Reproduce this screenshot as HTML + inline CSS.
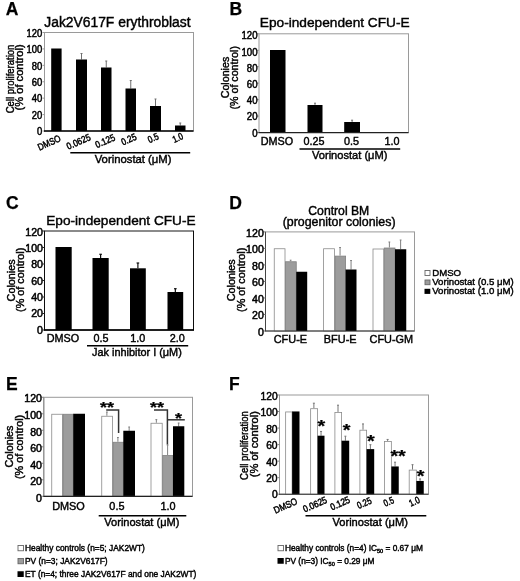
<!DOCTYPE html>
<html lang="en">
<head>
<meta charset="utf-8">
<title>Figure</title>
<style>
html,body{margin:0;padding:0;background:#fff;}
body{width:520px;height:581px;overflow:hidden;}
svg{display:block;font-family:'Liberation Sans', Arial, Helvetica, sans-serif;}
text{fill:#000;stroke:#000;stroke-width:.42px;}
text.st{stroke-width:.25px;}
text.tk{stroke-width:.5px;}
</style>
</head>
<body>
<svg width="520" height="581" viewBox="0 0 520 581">
<defs><filter id="soft" x="0" y="0" width="520" height="581" filterUnits="userSpaceOnUse"><feGaussianBlur stdDeviation="0.42"/></filter></defs>
<rect x="0" y="0" width="520" height="581" fill="#ffffff"/>
<g filter="url(#soft)">
<text transform="translate(5.80 15.30)" font-size="17.5" font-weight="bold" class="st">A</text>
<text transform="translate(44.30 27.00)" font-size="13.85">Jak2V617F erythroblast</text>
<rect x="44.5" y="32.5" width="149.0" height="98.5" fill="none" stroke="#9a9a9a" stroke-width="1"/>
<line x1="42.50" y1="131.00" x2="44.50" y2="131.00" stroke="#999" stroke-width="1"/>
<line x1="42.50" y1="114.58" x2="44.50" y2="114.58" stroke="#999" stroke-width="1"/>
<line x1="42.50" y1="98.17" x2="44.50" y2="98.17" stroke="#999" stroke-width="1"/>
<line x1="42.50" y1="81.75" x2="44.50" y2="81.75" stroke="#999" stroke-width="1"/>
<line x1="42.50" y1="65.33" x2="44.50" y2="65.33" stroke="#999" stroke-width="1"/>
<line x1="42.50" y1="48.92" x2="44.50" y2="48.92" stroke="#999" stroke-width="1"/>
<line x1="42.50" y1="32.50" x2="44.50" y2="32.50" stroke="#999" stroke-width="1"/>
<text transform="translate(42.20 135.29) scale(0.89 1)" font-size="10.6" text-anchor="end" class="tk">0</text>
<text transform="translate(42.20 118.89) scale(0.89 1)" font-size="10.6" text-anchor="end" class="tk">20</text>
<text transform="translate(42.20 102.49) scale(0.89 1)" font-size="10.6" text-anchor="end" class="tk">40</text>
<text transform="translate(42.20 86.09) scale(0.89 1)" font-size="10.6" text-anchor="end" class="tk">60</text>
<text transform="translate(42.20 69.69) scale(0.89 1)" font-size="10.6" text-anchor="end" class="tk">80</text>
<text transform="translate(42.20 53.29) scale(0.89 1)" font-size="10.6" text-anchor="end" class="tk">100</text>
<text transform="translate(42.20 36.89) scale(0.89 1)" font-size="10.6" text-anchor="end" class="tk">120</text>
<rect x="51.20" y="48.50" width="10.40" height="82.50" fill="#000"/>
<line x1="81.50" y1="53.50" x2="81.50" y2="59.50" stroke="#707070" stroke-width="1"/>
<line x1="80.50" y1="53.50" x2="82.50" y2="53.50" stroke="#707070" stroke-width="1"/>
<rect x="76.00" y="59.50" width="11.00" height="71.50" fill="#000"/>
<line x1="106.25" y1="61.00" x2="106.25" y2="67.50" stroke="#707070" stroke-width="1"/>
<line x1="105.25" y1="61.00" x2="107.25" y2="61.00" stroke="#707070" stroke-width="1"/>
<rect x="101.00" y="67.50" width="10.50" height="63.50" fill="#000"/>
<line x1="130.75" y1="80.50" x2="130.75" y2="88.50" stroke="#707070" stroke-width="1"/>
<line x1="129.75" y1="80.50" x2="131.75" y2="80.50" stroke="#707070" stroke-width="1"/>
<rect x="125.50" y="88.50" width="10.50" height="42.50" fill="#000"/>
<line x1="155.50" y1="99.00" x2="155.50" y2="106.00" stroke="#707070" stroke-width="1"/>
<line x1="154.50" y1="99.00" x2="156.50" y2="99.00" stroke="#707070" stroke-width="1"/>
<rect x="150.00" y="106.00" width="11.00" height="25.00" fill="#000"/>
<line x1="180.25" y1="123.00" x2="180.25" y2="125.50" stroke="#707070" stroke-width="1"/>
<line x1="179.25" y1="123.00" x2="181.25" y2="123.00" stroke="#707070" stroke-width="1"/>
<rect x="175.00" y="125.50" width="10.50" height="5.50" fill="#000"/>
<line x1="44.00" y1="131.00" x2="193.50" y2="131.00" stroke="#000" stroke-width="1.5"/>
<text transform="translate(61.60 140.80) rotate(-24) scale(0.84 1)" font-size="9.6" text-anchor="end" class="tk">DMSO</text>
<text transform="translate(91.40 139.60) rotate(-24) scale(0.86 1)" font-size="9.6" text-anchor="end" class="tk">0.0625</text>
<text transform="translate(115.90 139.80) rotate(-24) scale(0.86 1)" font-size="9.6" text-anchor="end" class="tk">0.125</text>
<text transform="translate(137.30 139.20) rotate(-24) scale(0.84 1)" font-size="9.6" text-anchor="end" class="tk">0.25</text>
<text transform="translate(159.50 138.70) rotate(-24) scale(0.82 1)" font-size="9.6" text-anchor="end" class="tk">0.5</text>
<text transform="translate(184.00 138.60) rotate(-24) scale(0.8 1)" font-size="9.6" text-anchor="end" class="tk">1.0</text>
<line x1="70.30" y1="152.80" x2="190.20" y2="152.80" stroke="#000" stroke-width="1.5"/>
<text transform="translate(94.70 163.30)" font-size="11.3">Vorinostat (μM)</text>
<text transform="translate(14.20 79.00) rotate(-90) scale(0.89 1)" font-size="10.7" text-anchor="middle">Cell proliferation</text>
<text transform="translate(23.40 77.40) rotate(-90) scale(1.02 1)" font-size="10.9" text-anchor="middle">(% of control)</text>
<text transform="translate(229.50 15.30)" font-size="17.5" font-weight="bold" class="st">B</text>
<text transform="translate(259.80 27.00)" font-size="13.7">Epo-independent CFU-E</text>
<rect x="259.0" y="33.8" width="149.5" height="98.7" fill="none" stroke="#9a9a9a" stroke-width="1"/>
<line x1="257.00" y1="132.50" x2="259.00" y2="132.50" stroke="#999" stroke-width="1"/>
<line x1="257.00" y1="116.05" x2="259.00" y2="116.05" stroke="#999" stroke-width="1"/>
<line x1="257.00" y1="99.60" x2="259.00" y2="99.60" stroke="#999" stroke-width="1"/>
<line x1="257.00" y1="83.15" x2="259.00" y2="83.15" stroke="#999" stroke-width="1"/>
<line x1="257.00" y1="66.70" x2="259.00" y2="66.70" stroke="#999" stroke-width="1"/>
<line x1="257.00" y1="50.25" x2="259.00" y2="50.25" stroke="#999" stroke-width="1"/>
<line x1="257.00" y1="33.80" x2="259.00" y2="33.80" stroke="#999" stroke-width="1"/>
<text transform="translate(257.50 136.69) scale(0.91 1)" font-size="10.6" text-anchor="end" class="tk">0</text>
<text transform="translate(257.50 120.48) scale(0.91 1)" font-size="10.6" text-anchor="end" class="tk">20</text>
<text transform="translate(257.50 104.26) scale(0.91 1)" font-size="10.6" text-anchor="end" class="tk">40</text>
<text transform="translate(257.50 88.04) scale(0.91 1)" font-size="10.6" text-anchor="end" class="tk">60</text>
<text transform="translate(257.50 71.83) scale(0.91 1)" font-size="10.6" text-anchor="end" class="tk">80</text>
<text transform="translate(257.50 55.61) scale(0.91 1)" font-size="10.6" text-anchor="end" class="tk">100</text>
<text transform="translate(257.50 39.39) scale(0.91 1)" font-size="10.6" text-anchor="end" class="tk">120</text>
<rect x="270.00" y="50.00" width="15.50" height="82.50" fill="#000"/>
<line x1="315.00" y1="103.20" x2="315.00" y2="105.00" stroke="#707070" stroke-width="1"/>
<line x1="314.00" y1="103.20" x2="316.00" y2="103.20" stroke="#707070" stroke-width="1"/>
<rect x="307.50" y="105.00" width="15.00" height="27.50" fill="#000"/>
<line x1="352.10" y1="120.20" x2="352.10" y2="122.00" stroke="#707070" stroke-width="1"/>
<line x1="351.10" y1="120.20" x2="353.10" y2="120.20" stroke="#707070" stroke-width="1"/>
<rect x="344.20" y="122.00" width="15.80" height="10.50" fill="#000"/>
<line x1="258.50" y1="132.50" x2="408.50" y2="132.50" stroke="#222" stroke-width="1.25"/>
<text transform="translate(277.00 144.50)" font-size="10.8" text-anchor="middle">DMSO</text>
<text transform="translate(314.10 144.50)" font-size="10.8" text-anchor="middle">0.25</text>
<text transform="translate(351.50 144.50)" font-size="10.8" text-anchor="middle">0.5</text>
<text transform="translate(392.00 144.50)" font-size="10.8" text-anchor="middle">1.0</text>
<line x1="299.50" y1="149.10" x2="400.20" y2="149.10" stroke="#000" stroke-width="1.5"/>
<text transform="translate(312.00 159.40)" font-size="11.1">Vorinostat (μM)</text>
<text transform="translate(229.00 77.50) rotate(-90) scale(0.99 1)" font-size="10.8" text-anchor="middle">Colonies</text>
<text transform="translate(238.20 77.80) rotate(-90) scale(0.99 1)" font-size="10.8" text-anchor="middle">(% of control)</text>
<text transform="translate(6.00 208.80)" font-size="17.5" font-weight="bold" class="st">C</text>
<text transform="translate(46.20 224.80)" font-size="13.65">Epo-independent CFU-E</text>
<rect x="44.5" y="231.0" width="149.0" height="99.0" fill="none" stroke="#111" stroke-width="1"/>
<line x1="42.50" y1="330.00" x2="44.50" y2="330.00" stroke="#222" stroke-width="1"/>
<line x1="42.50" y1="313.50" x2="44.50" y2="313.50" stroke="#222" stroke-width="1"/>
<line x1="42.50" y1="297.00" x2="44.50" y2="297.00" stroke="#222" stroke-width="1"/>
<line x1="42.50" y1="280.50" x2="44.50" y2="280.50" stroke="#222" stroke-width="1"/>
<line x1="42.50" y1="264.00" x2="44.50" y2="264.00" stroke="#222" stroke-width="1"/>
<line x1="42.50" y1="247.50" x2="44.50" y2="247.50" stroke="#222" stroke-width="1"/>
<line x1="42.50" y1="231.00" x2="44.50" y2="231.00" stroke="#222" stroke-width="1"/>
<text transform="translate(43.00 333.69) scale(1.0 1)" font-size="10.6" text-anchor="end" class="tk">0</text>
<text transform="translate(43.00 317.36) scale(1.0 1)" font-size="10.6" text-anchor="end" class="tk">20</text>
<text transform="translate(43.00 301.03) scale(1.0 1)" font-size="10.6" text-anchor="end" class="tk">40</text>
<text transform="translate(43.00 284.69) scale(1.0 1)" font-size="10.6" text-anchor="end" class="tk">60</text>
<text transform="translate(43.00 268.36) scale(1.0 1)" font-size="10.6" text-anchor="end" class="tk">80</text>
<text transform="translate(43.00 252.03) scale(1.0 1)" font-size="10.6" text-anchor="end" class="tk">100</text>
<text transform="translate(43.00 235.69) scale(1.0 1)" font-size="10.6" text-anchor="end" class="tk">120</text>
<rect x="55.50" y="247.00" width="16.20" height="83.00" fill="#000"/>
<line x1="100.60" y1="254.30" x2="100.60" y2="258.00" stroke="#111" stroke-width="1.2"/>
<line x1="99.30" y1="254.30" x2="101.90" y2="254.30" stroke="#111" stroke-width="1.2"/>
<rect x="92.50" y="258.00" width="16.20" height="72.00" fill="#000"/>
<line x1="137.90" y1="263.00" x2="137.90" y2="268.30" stroke="#111" stroke-width="1.2"/>
<line x1="136.60" y1="263.00" x2="139.20" y2="263.00" stroke="#111" stroke-width="1.2"/>
<rect x="130.00" y="268.30" width="15.80" height="61.70" fill="#000"/>
<line x1="175.35" y1="288.70" x2="175.35" y2="292.00" stroke="#111" stroke-width="1.2"/>
<line x1="174.05" y1="288.70" x2="176.65" y2="288.70" stroke="#111" stroke-width="1.2"/>
<rect x="167.50" y="292.00" width="15.70" height="38.00" fill="#000"/>
<line x1="44.00" y1="330.00" x2="194.00" y2="330.00" stroke="#000" stroke-width="1.4"/>
<text transform="translate(62.90 342.00)" font-size="10.8" text-anchor="middle">DMSO</text>
<text transform="translate(100.90 342.00)" font-size="10.8" text-anchor="middle">0.5</text>
<text transform="translate(137.75 342.00)" font-size="10.8" text-anchor="middle">1.0</text>
<text transform="translate(177.20 342.00)" font-size="10.8" text-anchor="middle">2.0</text>
<line x1="87.00" y1="345.80" x2="188.20" y2="345.80" stroke="#000" stroke-width="1.5"/>
<text transform="translate(92.00 355.60)" font-size="10.9">Jak inhibitor I (μM)</text>
<text transform="translate(14.80 280.40) rotate(-90) scale(1.0 1)" font-size="10.8" text-anchor="middle">Colonies</text>
<text transform="translate(24.20 279.80) rotate(-90) scale(1.0 1)" font-size="10.8" text-anchor="middle">(% of control)</text>
<text transform="translate(229.20 208.80)" font-size="17.5" font-weight="bold" class="st">D</text>
<text transform="translate(338.80 215.00)" font-size="12.2" text-anchor="middle">Control BM</text>
<text transform="translate(339.10 226.30)" font-size="12.4" text-anchor="middle">(progenitor colonies)</text>
<rect x="265.5" y="231.9" width="149.0" height="99.1" fill="none" stroke="#9a9a9a" stroke-width="1"/>
<line x1="265.50" y1="231.90" x2="265.50" y2="331.00" stroke="#444" stroke-width="1"/>
<line x1="263.50" y1="331.00" x2="265.50" y2="331.00" stroke="#777" stroke-width="1"/>
<line x1="263.50" y1="314.48" x2="265.50" y2="314.48" stroke="#777" stroke-width="1"/>
<line x1="263.50" y1="297.97" x2="265.50" y2="297.97" stroke="#777" stroke-width="1"/>
<line x1="263.50" y1="281.45" x2="265.50" y2="281.45" stroke="#777" stroke-width="1"/>
<line x1="263.50" y1="264.93" x2="265.50" y2="264.93" stroke="#777" stroke-width="1"/>
<line x1="263.50" y1="248.42" x2="265.50" y2="248.42" stroke="#777" stroke-width="1"/>
<line x1="263.50" y1="231.90" x2="265.50" y2="231.90" stroke="#777" stroke-width="1"/>
<text transform="translate(263.80 335.99) scale(1.0 1)" font-size="10.6" text-anchor="end" class="tk">0</text>
<text transform="translate(263.80 319.48) scale(1.0 1)" font-size="10.6" text-anchor="end" class="tk">20</text>
<text transform="translate(263.80 302.96) scale(1.0 1)" font-size="10.6" text-anchor="end" class="tk">40</text>
<text transform="translate(263.80 286.44) scale(1.0 1)" font-size="10.6" text-anchor="end" class="tk">60</text>
<text transform="translate(263.80 269.93) scale(1.0 1)" font-size="10.6" text-anchor="end" class="tk">80</text>
<text transform="translate(263.80 253.41) scale(1.0 1)" font-size="10.6" text-anchor="end" class="tk">100</text>
<text transform="translate(263.80 236.89) scale(1.0 1)" font-size="10.6" text-anchor="end" class="tk">120</text>
<rect x="274.25" y="248.75" width="10.75" height="82.25" fill="#fff" stroke="#8a8a8a" stroke-width="0.8"/>
<line x1="290.62" y1="260.20" x2="290.62" y2="261.25" stroke="#808080" stroke-width="1"/>
<line x1="289.73" y1="260.20" x2="291.52" y2="260.20" stroke="#808080" stroke-width="1"/>
<rect x="285.50" y="261.75" width="10.75" height="69.25" fill="#9c9c9c" stroke="#808080" stroke-width="0.8"/>
<rect x="296.25" y="271.75" width="10.95" height="59.25" fill="#000"/>
<rect x="323.60" y="248.75" width="10.90" height="82.25" fill="#fff" stroke="#8a8a8a" stroke-width="0.8"/>
<line x1="340.05" y1="247.50" x2="340.05" y2="255.60" stroke="#808080" stroke-width="1"/>
<line x1="339.15" y1="247.50" x2="340.95" y2="247.50" stroke="#808080" stroke-width="1"/>
<rect x="335.00" y="256.10" width="10.60" height="74.90" fill="#9c9c9c" stroke="#808080" stroke-width="0.8"/>
<line x1="351.05" y1="260.50" x2="351.05" y2="269.50" stroke="#808080" stroke-width="1"/>
<line x1="350.15" y1="260.50" x2="351.95" y2="260.50" stroke="#808080" stroke-width="1"/>
<rect x="345.60" y="269.50" width="10.90" height="61.50" fill="#000"/>
<rect x="373.00" y="249.00" width="10.75" height="82.00" fill="#fff" stroke="#8a8a8a" stroke-width="0.8"/>
<line x1="389.38" y1="242.00" x2="389.38" y2="247.50" stroke="#808080" stroke-width="1"/>
<line x1="388.48" y1="242.00" x2="390.27" y2="242.00" stroke="#808080" stroke-width="1"/>
<rect x="384.25" y="248.00" width="10.75" height="83.00" fill="#9c9c9c" stroke="#808080" stroke-width="0.8"/>
<line x1="400.62" y1="240.00" x2="400.62" y2="249.25" stroke="#808080" stroke-width="1"/>
<line x1="399.73" y1="240.00" x2="401.52" y2="240.00" stroke="#808080" stroke-width="1"/>
<rect x="395.00" y="249.25" width="11.25" height="81.75" fill="#000"/>
<line x1="265.00" y1="331.00" x2="414.50" y2="331.00" stroke="#333" stroke-width="1.15"/>
<text transform="translate(290.40 343.20)" font-size="10.9" text-anchor="middle">CFU-E</text>
<text transform="translate(340.20 343.20)" font-size="10.9" text-anchor="middle">BFU-E</text>
<text transform="translate(391.30 343.20)" font-size="10.9" text-anchor="middle">CFU-GM</text>
<text transform="translate(235.40 280.30) rotate(-90) scale(1.0 1)" font-size="10.8" text-anchor="middle">Colonies</text>
<text transform="translate(245.00 279.80) rotate(-90) scale(1.0 1)" font-size="10.8" text-anchor="middle">(% of control)</text>
<rect x="425.00" y="270.50" width="5.00" height="5.00" fill="#fff" stroke="#666" stroke-width="0.9"/>
<text transform="translate(432.20 275.80)" font-size="9.65">DMSO</text>
<rect x="425.00" y="280.00" width="5.00" height="4.70" fill="#9c9c9c" stroke="#666" stroke-width="0.9"/>
<text transform="translate(432.20 284.60)" font-size="9.65">Vorinostat (0.5 μM)</text>
<rect x="424.50" y="288.80" width="5.80" height="5.10" fill="#000"/>
<text transform="translate(432.20 293.80)" font-size="9.65">Vorinostat (1.0 μM)</text>
<text transform="translate(5.90 390.00)" font-size="17.5" font-weight="bold" class="st">E</text>
<rect x="43.8" y="397.3" width="148.7" height="99.0" fill="none" stroke="#9a9a9a" stroke-width="1"/>
<line x1="43.80" y1="397.30" x2="43.80" y2="496.30" stroke="#8a8a8a" stroke-width="1"/>
<line x1="41.80" y1="496.30" x2="43.80" y2="496.30" stroke="#888" stroke-width="1"/>
<line x1="41.80" y1="479.80" x2="43.80" y2="479.80" stroke="#888" stroke-width="1"/>
<line x1="41.80" y1="463.30" x2="43.80" y2="463.30" stroke="#888" stroke-width="1"/>
<line x1="41.80" y1="446.80" x2="43.80" y2="446.80" stroke="#888" stroke-width="1"/>
<line x1="41.80" y1="430.30" x2="43.80" y2="430.30" stroke="#888" stroke-width="1"/>
<line x1="41.80" y1="413.80" x2="43.80" y2="413.80" stroke="#888" stroke-width="1"/>
<line x1="41.80" y1="397.30" x2="43.80" y2="397.30" stroke="#888" stroke-width="1"/>
<text transform="translate(42.00 501.79) scale(1.0 1)" font-size="10.6" text-anchor="end" class="tk">0</text>
<text transform="translate(42.00 485.24) scale(1.0 1)" font-size="10.6" text-anchor="end" class="tk">20</text>
<text transform="translate(42.00 468.69) scale(1.0 1)" font-size="10.6" text-anchor="end" class="tk">40</text>
<text transform="translate(42.00 452.14) scale(1.0 1)" font-size="10.6" text-anchor="end" class="tk">60</text>
<text transform="translate(42.00 435.59) scale(1.0 1)" font-size="10.6" text-anchor="end" class="tk">80</text>
<text transform="translate(42.00 419.04) scale(1.0 1)" font-size="10.6" text-anchor="end" class="tk">100</text>
<text transform="translate(42.00 402.49) scale(1.0 1)" font-size="10.6" text-anchor="end" class="tk">120</text>
<rect x="51.75" y="414.25" width="10.75" height="82.05" fill="#fff" stroke="#8a8a8a" stroke-width="0.8"/>
<rect x="63.00" y="414.25" width="10.25" height="82.05" fill="#9c9c9c" stroke="#808080" stroke-width="0.8"/>
<rect x="73.25" y="413.75" width="11.75" height="82.55" fill="#000"/>
<line x1="106.88" y1="412.00" x2="106.88" y2="415.75" stroke="#808080" stroke-width="1"/>
<line x1="105.97" y1="412.00" x2="107.78" y2="412.00" stroke="#808080" stroke-width="1"/>
<rect x="101.75" y="416.25" width="10.75" height="80.05" fill="#fff" stroke="#8a8a8a" stroke-width="0.8"/>
<line x1="117.90" y1="437.50" x2="117.90" y2="441.75" stroke="#808080" stroke-width="1"/>
<line x1="117.00" y1="437.50" x2="118.80" y2="437.50" stroke="#808080" stroke-width="1"/>
<rect x="113.00" y="442.25" width="10.30" height="54.05" fill="#9c9c9c" stroke="#808080" stroke-width="0.8"/>
<line x1="129.15" y1="427.00" x2="129.15" y2="430.75" stroke="#808080" stroke-width="1"/>
<line x1="128.25" y1="427.00" x2="130.05" y2="427.00" stroke="#808080" stroke-width="1"/>
<rect x="123.30" y="430.75" width="11.70" height="65.55" fill="#000"/>
<line x1="156.35" y1="419.60" x2="156.35" y2="422.75" stroke="#808080" stroke-width="1"/>
<line x1="155.45" y1="419.60" x2="157.25" y2="419.60" stroke="#808080" stroke-width="1"/>
<rect x="151.00" y="423.25" width="11.20" height="73.05" fill="#fff" stroke="#8a8a8a" stroke-width="0.8"/>
<line x1="167.60" y1="445.00" x2="167.60" y2="455.00" stroke="#808080" stroke-width="1"/>
<line x1="166.70" y1="445.00" x2="168.50" y2="445.00" stroke="#808080" stroke-width="1"/>
<rect x="162.70" y="455.50" width="10.30" height="40.80" fill="#9c9c9c" stroke="#808080" stroke-width="0.8"/>
<line x1="178.65" y1="423.00" x2="178.65" y2="426.25" stroke="#808080" stroke-width="1"/>
<line x1="177.75" y1="423.00" x2="179.55" y2="423.00" stroke="#808080" stroke-width="1"/>
<rect x="173.00" y="426.25" width="11.30" height="70.05" fill="#000"/>
<line x1="43.30" y1="496.30" x2="192.50" y2="496.30" stroke="#222" stroke-width="1.2"/>
<text transform="translate(68.50 510.00)" font-size="10.9" text-anchor="middle">DMSO</text>
<text transform="translate(116.90 510.00)" font-size="10.9" text-anchor="middle">0.5</text>
<text transform="translate(168.00 510.00)" font-size="10.9" text-anchor="middle">1.0</text>
<line x1="98.70" y1="515.70" x2="186.30" y2="515.70" stroke="#000" stroke-width="1.5"/>
<text transform="translate(104.30 525.60)" font-size="11.05">Vorinostat (μM)</text>
<text transform="translate(13.00 446.50) rotate(-90) scale(1.0 1)" font-size="10.8" text-anchor="middle">Colonies</text>
<text transform="translate(23.00 446.90) rotate(-90) scale(1.0 1)" font-size="10.8" text-anchor="middle">(% of control)</text>
<text transform="translate(106.90 412.30) scale(1.2 1)" font-size="15" text-anchor="middle" font-weight="bold" class="st">**</text>
<polyline points="106.2,410 118.6,410 118.6,433" fill="none" stroke="#333" stroke-width="1.5"/>
<text transform="translate(156.90 412.30) scale(1.2 1)" font-size="15" text-anchor="middle" font-weight="bold" class="st">**</text>
<polyline points="154,410 167.4,410 167.4,444.5" fill="none" stroke="#333" stroke-width="1.5"/>
<text transform="translate(178.40 422.80) scale(1.2 1)" font-size="15" text-anchor="middle" font-weight="bold" class="st">*</text>
<line x1="167.40" y1="419.80" x2="184.80" y2="419.80" stroke="#333" stroke-width="1.5"/>
<rect x="18.00" y="545.50" width="5.50" height="5.25" fill="#fff" stroke="#666" stroke-width="0.9"/>
<text transform="translate(25.00 550.60)" font-size="8.38">Healthy controls (n=5; JAK2WT)</text>
<rect x="18.00" y="558.50" width="5.50" height="5.25" fill="#9c9c9c" stroke="#666" stroke-width="0.9"/>
<text transform="translate(25.00 563.80)" font-size="8.38">PV (n=3; JAK2V617F)</text>
<rect x="17.50" y="571.25" width="6.25" height="5.75" fill="#000"/>
<text transform="translate(25.00 577.00)" font-size="8.38">ET (n=4; three JAK2V617F and one JAK2WT)</text>
<text transform="translate(229.10 390.00)" font-size="17.5" font-weight="bold" class="st">F</text>
<rect x="279.5" y="395.0" width="149.0" height="99.19999999999999" fill="none" stroke="#9a9a9a" stroke-width="1"/>
<line x1="277.50" y1="494.20" x2="279.50" y2="494.20" stroke="#888" stroke-width="1"/>
<line x1="277.50" y1="477.67" x2="279.50" y2="477.67" stroke="#888" stroke-width="1"/>
<line x1="277.50" y1="461.13" x2="279.50" y2="461.13" stroke="#888" stroke-width="1"/>
<line x1="277.50" y1="444.60" x2="279.50" y2="444.60" stroke="#888" stroke-width="1"/>
<line x1="277.50" y1="428.07" x2="279.50" y2="428.07" stroke="#888" stroke-width="1"/>
<line x1="277.50" y1="411.53" x2="279.50" y2="411.53" stroke="#888" stroke-width="1"/>
<line x1="277.50" y1="395.00" x2="279.50" y2="395.00" stroke="#888" stroke-width="1"/>
<text transform="translate(277.60 498.39) scale(0.97 1)" font-size="10.6" text-anchor="end" class="tk">0</text>
<text transform="translate(277.60 482.01) scale(0.97 1)" font-size="10.6" text-anchor="end" class="tk">20</text>
<text transform="translate(277.60 465.63) scale(0.97 1)" font-size="10.6" text-anchor="end" class="tk">40</text>
<text transform="translate(277.60 449.24) scale(0.97 1)" font-size="10.6" text-anchor="end" class="tk">60</text>
<text transform="translate(277.60 432.86) scale(0.97 1)" font-size="10.6" text-anchor="end" class="tk">80</text>
<text transform="translate(277.60 416.48) scale(0.97 1)" font-size="10.6" text-anchor="end" class="tk">100</text>
<text transform="translate(277.60 400.09) scale(0.97 1)" font-size="10.6" text-anchor="end" class="tk">120</text>
<rect x="285.65" y="411.95" width="6.45" height="82.25" fill="#fff" stroke="#8a8a8a" stroke-width="0.8"/>
<rect x="292.10" y="411.45" width="7.40" height="82.75" fill="#000"/>
<line x1="313.88" y1="403.20" x2="313.88" y2="408.20" stroke="#777" stroke-width="1"/>
<line x1="312.88" y1="403.20" x2="314.88" y2="403.20" stroke="#777" stroke-width="1"/>
<rect x="310.65" y="408.70" width="6.95" height="85.50" fill="#fff" stroke="#8a8a8a" stroke-width="0.8"/>
<line x1="321.05" y1="431.45" x2="321.05" y2="435.70" stroke="#777" stroke-width="1"/>
<line x1="320.05" y1="431.45" x2="322.05" y2="431.45" stroke="#777" stroke-width="1"/>
<rect x="317.60" y="435.70" width="6.90" height="58.50" fill="#000"/>
<line x1="338.00" y1="405.20" x2="338.00" y2="411.95" stroke="#777" stroke-width="1"/>
<line x1="337.00" y1="405.20" x2="339.00" y2="405.20" stroke="#777" stroke-width="1"/>
<rect x="334.90" y="412.45" width="6.70" height="81.75" fill="#fff" stroke="#8a8a8a" stroke-width="0.8"/>
<line x1="345.40" y1="436.20" x2="345.40" y2="440.70" stroke="#777" stroke-width="1"/>
<line x1="344.40" y1="436.20" x2="346.40" y2="436.20" stroke="#777" stroke-width="1"/>
<rect x="341.60" y="440.70" width="7.60" height="53.50" fill="#000"/>
<line x1="363.00" y1="423.95" x2="363.00" y2="429.70" stroke="#777" stroke-width="1"/>
<line x1="362.00" y1="423.95" x2="364.00" y2="423.95" stroke="#777" stroke-width="1"/>
<rect x="359.90" y="430.20" width="6.70" height="64.00" fill="#fff" stroke="#8a8a8a" stroke-width="0.8"/>
<line x1="370.40" y1="444.70" x2="370.40" y2="449.10" stroke="#777" stroke-width="1"/>
<line x1="369.40" y1="444.70" x2="371.40" y2="444.70" stroke="#777" stroke-width="1"/>
<rect x="366.60" y="449.10" width="7.60" height="45.10" fill="#000"/>
<line x1="387.62" y1="439.45" x2="387.62" y2="440.95" stroke="#777" stroke-width="1"/>
<line x1="386.62" y1="439.45" x2="388.62" y2="439.45" stroke="#777" stroke-width="1"/>
<rect x="384.40" y="441.45" width="6.95" height="52.75" fill="#fff" stroke="#8a8a8a" stroke-width="0.8"/>
<line x1="395.05" y1="462.20" x2="395.05" y2="466.45" stroke="#777" stroke-width="1"/>
<line x1="394.05" y1="462.20" x2="396.05" y2="462.20" stroke="#777" stroke-width="1"/>
<rect x="391.35" y="466.45" width="7.40" height="27.75" fill="#000"/>
<line x1="412.52" y1="464.70" x2="412.52" y2="469.60" stroke="#777" stroke-width="1"/>
<line x1="411.52" y1="464.70" x2="413.52" y2="464.70" stroke="#777" stroke-width="1"/>
<rect x="409.20" y="470.10" width="7.15" height="24.10" fill="#fff" stroke="#8a8a8a" stroke-width="0.8"/>
<line x1="420.05" y1="478.95" x2="420.05" y2="480.95" stroke="#777" stroke-width="1"/>
<line x1="419.05" y1="478.95" x2="421.05" y2="478.95" stroke="#777" stroke-width="1"/>
<rect x="416.35" y="480.95" width="7.40" height="13.25" fill="#000"/>
<line x1="279.00" y1="494.20" x2="428.50" y2="494.20" stroke="#333" stroke-width="1.15"/>
<text transform="translate(298.20 503.60) rotate(-24) scale(0.86 1)" font-size="9.6" text-anchor="end" class="tk">DMSO</text>
<text transform="translate(327.80 502.30) rotate(-24) scale(0.86 1)" font-size="9.6" text-anchor="end" class="tk">0.0625</text>
<text transform="translate(350.80 502.10) rotate(-24) scale(0.86 1)" font-size="9.6" text-anchor="end" class="tk">0.125</text>
<text transform="translate(372.30 502.90) rotate(-24) scale(0.8 1)" font-size="9.6" text-anchor="end" class="tk">0.25</text>
<text transform="translate(394.80 502.60) rotate(-24) scale(0.78 1)" font-size="9.6" text-anchor="end" class="tk">0.5</text>
<text transform="translate(420.60 502.30) rotate(-24) scale(0.8 1)" font-size="9.6" text-anchor="end" class="tk">1.0</text>
<line x1="305.50" y1="515.80" x2="426.30" y2="515.80" stroke="#000" stroke-width="1.5"/>
<text transform="translate(332.50 525.60)" font-size="11.1">Vorinostat (μM)</text>
<text transform="translate(248.30 445.60) rotate(-90) scale(0.89 1)" font-size="10.7" text-anchor="middle">Cell proliferation</text>
<text transform="translate(257.50 444.20) rotate(-90) scale(1.02 1)" font-size="10.9" text-anchor="middle">(% of control)</text>
<text transform="translate(321.30 432.13) scale(1.2 1)" font-size="16.5" text-anchor="middle" font-weight="bold" class="st">*</text>
<text transform="translate(346.70 436.43) scale(1.2 1)" font-size="16.5" text-anchor="middle" font-weight="bold" class="st">*</text>
<text transform="translate(370.90 447.13) scale(1.2 1)" font-size="16.5" text-anchor="middle" font-weight="bold" class="st">*</text>
<text transform="translate(398.10 462.13) scale(1.2 1)" font-size="16.5" text-anchor="middle" font-weight="bold" class="st">**</text>
<text transform="translate(420.60 482.13) scale(1.2 1)" font-size="16.5" text-anchor="middle" font-weight="bold" class="st">*</text>
<rect x="278.00" y="545.50" width="5.50" height="5.25" fill="#fff" stroke="#666" stroke-width="0.9"/>
<text transform="translate(285.00 550.60)" font-size="8.3">Healthy controls (n=4) IC<tspan font-size="5.6" dy="2.1">50</tspan><tspan dy="-2.1"> </tspan>= 0.67 μM</text>
<rect x="277.50" y="558.00" width="6.25" height="5.75" fill="#000"/>
<text transform="translate(285.00 563.80)" font-size="8.3">PV (n=3) IC<tspan font-size="5.6" dy="2.1">50</tspan><tspan dy="-2.1"> </tspan>= 0.29 μM</text>
</g>
</svg>
</body>
</html>
